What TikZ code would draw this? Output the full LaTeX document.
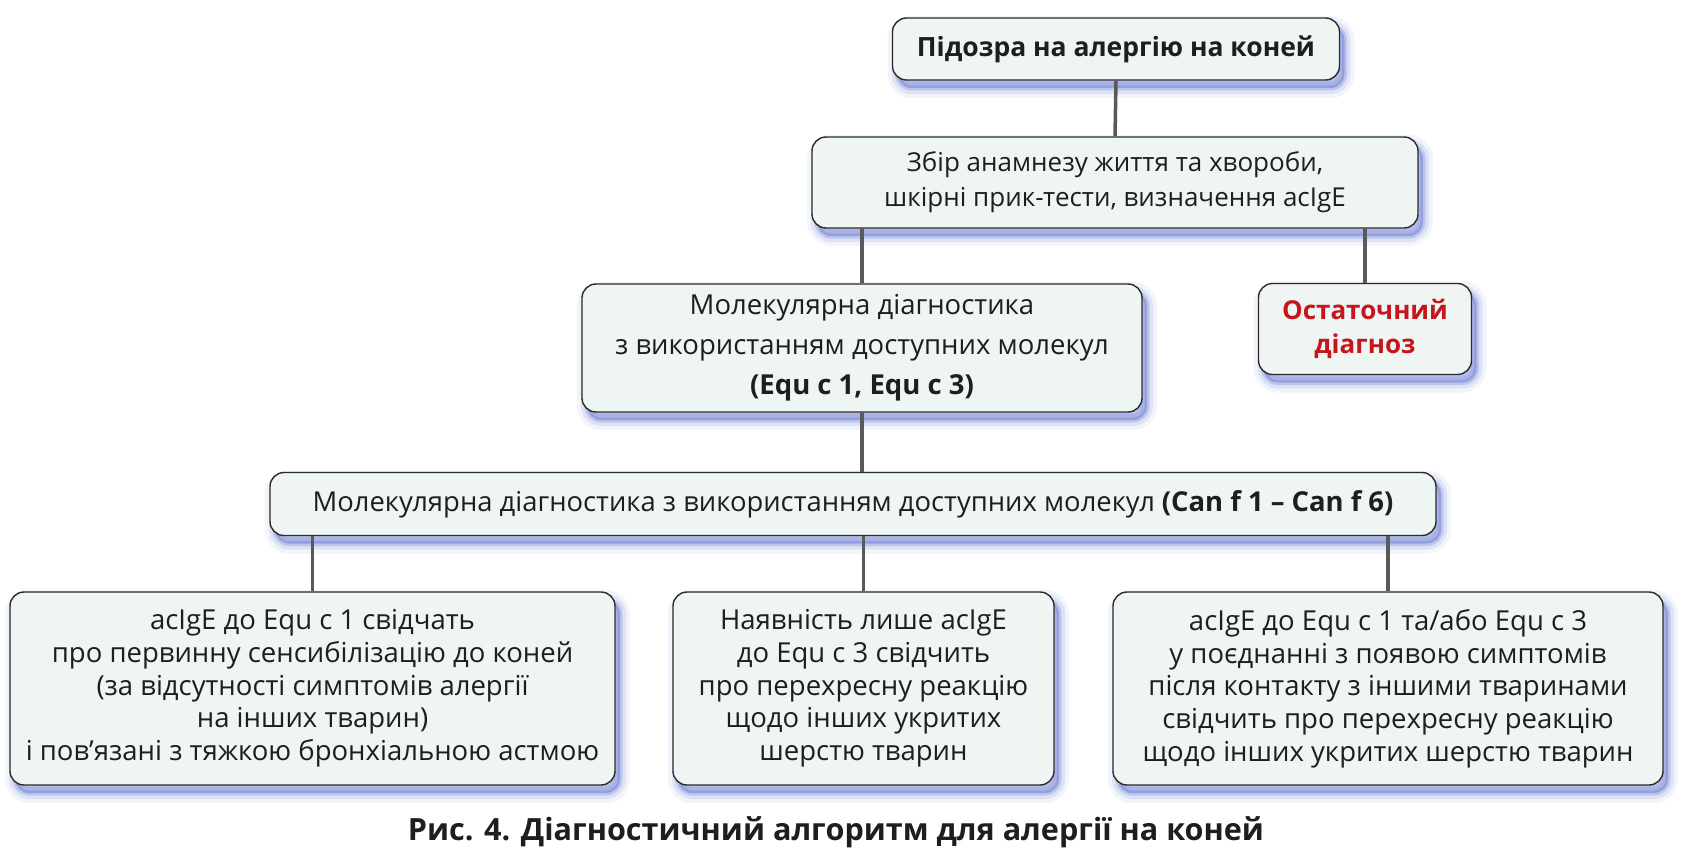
\documentclass[tikz,border=0pt]{standalone}
\usepackage{fontspec}
\setmainfont{Open Sans}
\usetikzlibrary{shadows}
\definecolor{boxfill}{HTML}{EEF5F3}
\definecolor{boxline}{HTML}{2B2B2B}
\definecolor{glowc}{HTML}{4A5FC8}
\definecolor{linkc}{HTML}{595959}
\definecolor{redtxt}{HTML}{C4161C}
\definecolor{txt}{HTML}{1E1E1E}
\begin{document}
\begin{tikzpicture}[x=1pt,y=-1pt,
  glow/.style={
    general shadow={fill=glowc, draw=glowc, line width=20pt, opacity=0.07, shadow xshift=5pt, shadow yshift=-8pt},
    general shadow={fill=glowc, draw=glowc, line width=12pt, opacity=0.12, shadow xshift=5pt, shadow yshift=-8pt},
    general shadow={fill=glowc, draw=glowc, line width=5pt, opacity=0.22, shadow xshift=5pt, shadow yshift=-8pt}},
  box/.style={glow, draw=boxline, line width=1.4pt, fill=boxfill, rounded corners=14pt,
    align=center, inner sep=0pt, text=txt, font=\fontsize{26.5}{33}\selectfont},
  link/.style={draw=linkc, line width=3.5pt}]
\useasboundingbox (0,0) rectangle (1688,853);

\node[box, minimum width=447pt, minimum height=62pt, font=\fontsize{26.5}{33}\selectfont\bfseries] (top) at (1116,49) {Підозра на алергію на коней};
\node[box, minimum width=606pt, minimum height=91pt, font=\fontsize{26}{35}\selectfont] (anam) at (1115,182.5) {Збір анамнезу життя та хвороби,\\шкірні прик-тести, визначення acIgE};
\node[box, minimum width=560pt, minimum height=128pt, font=\fontsize{27.5}{40}\selectfont] (equ) at (862,348) {Молекулярна діагностика\\з використанням доступних молекул\\\textbf{(Equ c 1, Equ c 3)}};
\node[box, minimum width=213pt, minimum height=91pt, text=redtxt, font=\fontsize{26}{34}\selectfont\bfseries] (final) at (1365,329) {Остаточний\\діагноз};
\node[box, minimum width=1166pt, minimum height=63pt, font=\fontsize{27.4}{33}\selectfont] (can) at (853,504) {Молекулярна діагностика з використанням доступних молекул \textbf{(Can f 1 – Can f 6)}};
\node[box, minimum width=605pt, minimum height=193pt, font=\fontsize{27.5}{32.7}\selectfont] (b1) at (312.5,688.5) {acIgE до Equ c 1 свідчать\\про первинну сенсибілізацію до коней\\(за відсутності симптомів алергії\\на інших тварин)\\і пов’язані з тяжкою бронхіальною астмою};
\node[box, minimum width=381pt, minimum height=193pt, font=\fontsize{27.5}{32.7}\selectfont] (b2) at (863.5,688.5) {Наявність лише acIgE\\до Equ c 3 свідчить\\про перехресну реакцію\\щодо інших укритих\\шерстю тварин};
\node[box, minimum width=550pt, minimum height=193pt, font=\fontsize{27.5}{32.7}\selectfont] (b3) at (1388,688.5) {acIgE до Equ c 1 та/або Equ c 3\\у поєднанні з появою симптомів\\після контакту з іншими тваринами\\свідчить про перехресну реакцію\\щодо інших укритих шерстю тварин};

\node[text=txt, font=\fontsize{30.6}{34}\selectfont\bfseries, inner sep=0pt] (cap) at (836,832) {Рис. 4. Діагностичний алгоритм для алергії на коней};

\draw[link] (top.south) -- (anam.north);
\draw[link] (anam.south -| equ.north) -- (equ.north);
\draw[link] (anam.south -| final.north) -- (final.north);
\draw[link] (equ.south) -- (equ.south |- can.north);
\draw[link] (can.south -| b1.north) -- (b1.north);
\draw[link] (can.south -| b2.north) -- (b2.north);
\draw[link] (can.south -| b3.north) -- (b3.north);
\end{tikzpicture}
\end{document}
